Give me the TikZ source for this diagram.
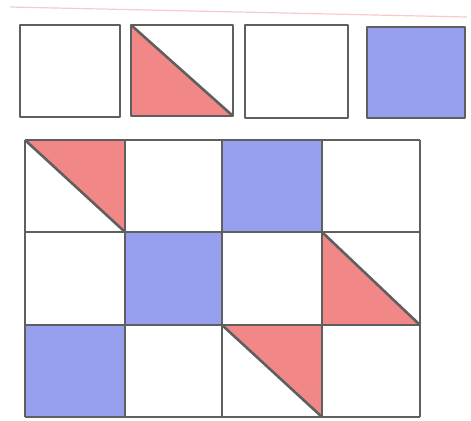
\documentclass[tikz,border=0pt]{standalone}
\usepackage{xcolor}
\usepackage{tikz}
\definecolor{pencilred}{RGB}{242,135,135}
\definecolor{pencilblue}{RGB}{150,160,238}
\definecolor{linegray}{RGB}{95,95,95}
\begin{document}
\begin{tikzpicture}[
  x=0.5pt, y=-0.5pt,
  edge/.style={draw=linegray, line width=1.3pt, line join=round},
  redpart/.style={fill=pencilred},
  bluepart/.style={fill=pencilblue}
]
  \useasboundingbox (0,0) rectangle (471,420);
  \draw[pencilred!45, line width=0.6pt] (10,7) -- (467,17);

  % top row of single tiles
  \fill[redpart] (131,25) -- (131,116) -- (233,116) -- cycle;
  \fill[bluepart] (367,27) rectangle (465,118);
  \draw[edge] (131,25) -- (233,116);
  \draw[edge] (20,25) rectangle (120,117);
  \draw[edge] (131,25) rectangle (233,116);
  \draw[edge] (245,25) rectangle (348,118);
  \draw[edge] (367,27) rectangle (465,118);

  % 3x4 grid
  \coordinate (g11) at (25,140);
  \fill[redpart] (25,140) -- (125,140) -- (125,232) -- cycle;
  \fill[bluepart] (222,140) rectangle (322,232);
  \fill[bluepart] (125,232) rectangle (222,325);
  \fill[redpart] (322,232) -- (322,325) -- (420,325) -- cycle;
  \fill[bluepart] (25,325) rectangle (125,417);
  \fill[redpart] (222,325) -- (322,325) -- (322,417) -- cycle;

  \draw[edge] (25,140) -- (125,232);
  \draw[edge] (322,232) -- (420,325);
  \draw[edge] (222,325) -- (322,417);

  \foreach \x in {25,125,222,322,420}
    \draw[edge] (\x,140) -- (\x,417);
  \foreach \y in {140,232,325,417}
    \draw[edge] (25,\y) -- (420,\y);
\end{tikzpicture}
\end{document}
